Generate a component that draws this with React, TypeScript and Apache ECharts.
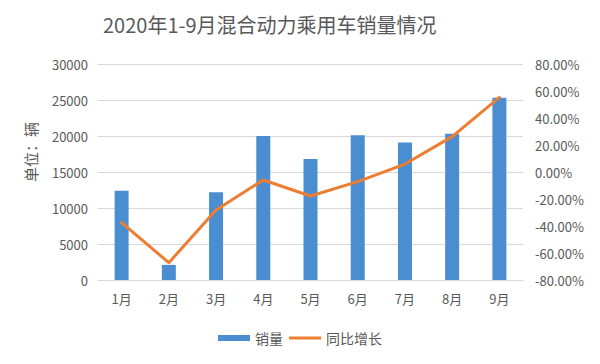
import React, { useEffect, useRef } from "react";
import * as echarts from "echarts";

const categories = ["1月", "2月", "3月", "4月", "5月", "6月", "7月", "8月", "9月"];
const salesValues = [12400, 2100, 12200, 20000, 16800, 20100, 19100, 20300, 25300];
const growthValues = [-37.5, -67.2, -28.1, -5.9, -17.8, -7.1, 5.9, 26.2, 55.3];
const titleText = "2020年1-9月混合动力乘用车销量情况";
const seriesNames = ["销量", "同比增长"];
const unitLabel = "单位：辆";

export default function App() {
  const ref = useRef<HTMLDivElement>(null);
  useEffect(() => {
    if (!ref.current) return;
    const chart = echarts.init(ref.current, undefined, { renderer: "svg" });
    const font = "Noto Sans CJK SC, Noto Sans, sans-serif";
    const gray = "#595959";
    chart.setOption({
      animation: false,
      backgroundColor: "#ffffff",
      textStyle: { fontFamily: font },
      title: {
        text: titleText,
        left: 98,
        top: 9,
        textStyle: { fontSize: 20, fontWeight: "normal", color: gray, fontFamily: font },
      },
      graphic: [
        {
          type: "rect",
          shape: { x: 4.5, y: 2.5, width: 590, height: 358 },
          style: { fill: "none", stroke: "#d9d9d9", lineWidth: 1 },
          silent: true,
        },
        {
          type: "text",
          x: 30,
          y: 152,
          rotation: Math.PI / 2,
          style: {
            text: unitLabel,
            fill: gray,
            fontSize: 15,
            fontFamily: font,
            align: "center",
            verticalAlign: "middle",
          },
        },
      ],
      legend: {
        bottom: 14,
        left: "center",
        itemWidth: 32,
        itemHeight: 6,
        itemGap: 6,
        textStyle: { fontSize: 14, color: gray, fontFamily: font },
        data: [
          { name: seriesNames[0], icon: "rect" },
          { name: seriesNames[1], icon: "path://M0 0H32V3H0Z" },
        ],
      },
      grid: { left: 98, right: 77, top: 64, bottom: 84 },
      xAxis: {
        type: "category",
        data: categories,
        axisLine: { lineStyle: { color: "#d9d9d9" } },
        axisTick: { show: false },
        axisLabel: { color: gray, fontSize: 13, margin: 12, fontFamily: font },
      },
      yAxis: [
        {
          type: "value",
          min: 0,
          max: 30000,
          interval: 5000,
          axisLine: { show: false },
          axisTick: { show: false },
          splitLine: { lineStyle: { color: "#d9d9d9" } },
          axisLabel: {
            color: gray,
            fontSize: 13,
            margin: 10,
            fontFamily: font,
            formatter: (v: number) => String(v),
          },
        },
        {
          type: "value",
          min: -80,
          max: 80,
          interval: 20,
          axisLine: { show: false },
          axisTick: { show: false },
          splitLine: { show: false },
          axisLabel: {
            color: gray,
            fontSize: 13,
            margin: 12,
            fontFamily: font,
            formatter: (v: number) => v.toFixed(2) + "%",
          },
        },
      ],
      series: [
        {
          name: seriesNames[0],
          type: "bar",
          data: salesValues,
          barWidth: 14,
          itemStyle: { color: "#4a8dd1" },
        },
        {
          name: seriesNames[1],
          type: "line",
          yAxisIndex: 1,
          data: growthValues,
          symbol: "none",
          lineStyle: { color: "#ed7d31", width: 3, join: "round", cap: "round" },
          itemStyle: { color: "#ed7d31" },
        },
      ],
    });
    return () => chart.dispose();
  }, []);
  return <div ref={ref} style={{ width: 600, height: 364, margin: -8 }} />;
}
